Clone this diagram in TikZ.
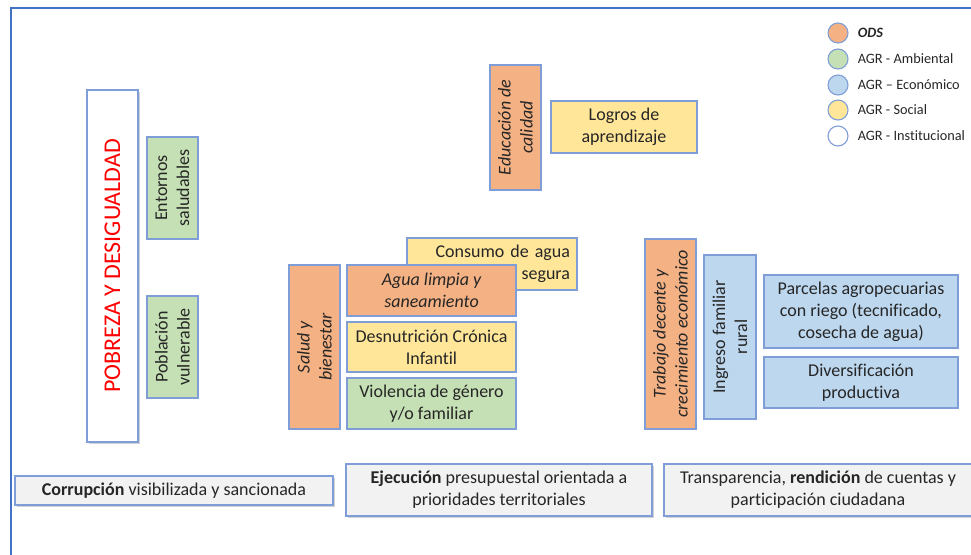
\documentclass[tikz,border=0pt]{standalone}
\usepackage{fontspec}
\setmainfont[Ligatures=NoCommon]{Carlito}
\usetikzlibrary{positioning,shadows}

\definecolor{odsc}{HTML}{F4B183}
\definecolor{ambc}{HTML}{C5E0B4}
\definecolor{ecoc}{HTML}{BDD7EE}
\definecolor{socc}{HTML}{FFE699}
\definecolor{insc}{HTML}{F2F2F2}
\definecolor{edgec}{HTML}{7F9ED8}
\definecolor{framec}{HTML}{4472C4}

\begin{document}
\begin{tikzpicture}
      [x=1pt, y=-1pt, auto,
       box/.style={draw=edgec, line width=1.1pt, inner sep=0pt, align=center,
         font=\fontsize{18}{22}\selectfont, text=black!85},
       vbox/.style={box, rotate=90},
       shade/.style={drop shadow={shadow xshift=1.5pt, shadow yshift=-1.5pt, opacity=0.35}},
       legdot/.style={circle, draw=edgec, line width=1.1pt, minimum size=20pt, inner sep=0pt},
       legtxt/.style={inner sep=0pt, font=\fontsize{14.3}{17}\selectfont, text=black!85}]
      \clip (0, 0) rectangle (971, 554);
      \draw[framec, line width=2.5pt] (11, 560) -- (11, 8) -- (980, 8);

      \node[vbox, shade, fill=white, minimum width=352pt, minimum height=51pt,
            text=red, font=\fontsize{24}{28}\selectfont] (pobreza) at (112.5, 266) {POBREZA Y DESIGUALDAD};
      \node[vbox, fill=ambc, minimum width=102pt, minimum height=51pt] (entornos) at (172.5, 188) {Entornos\\saludables};
      \node[vbox, fill=ambc, minimum width=102pt, minimum height=51pt] (poblacion) at (172.5, 347) {Población\\vulnerable};

      \node[vbox, fill=odsc, minimum width=125pt, minimum height=51pt] (educacion) at (515.5, 127.5) {\itshape Educación de\\\itshape calidad};
      \node[box, fill=socc, minimum width=146pt, minimum height=52pt] (logros) at (624, 127) {Logros de\\aprendizaje};

      \node[box, fill=socc, text width=156pt, inner xsep=7pt, align=right, minimum height=52pt] (consumo) at (492, 264) {Consumo de agua\\segura};
      \node[vbox, fill=odsc, minimum width=164pt, minimum height=51pt] (salud) at (314.5, 347) {\itshape Salud y\\\itshape bienestar};
      \node[box, fill=odsc, minimum width=169pt, minimum height=51pt] (agua) at (431.5, 290.5) {\itshape Agua limpia y\\\itshape saneamiento};
      \node[box, fill=socc, minimum width=169pt, minimum height=50pt] (desnutricion) at (431.5, 347) {Desnutrición Crónica\\Infantil};
      \node[box, fill=ambc, minimum width=169pt, minimum height=51pt] (violencia) at (431.5, 403.5) {Violencia de género\\y/o familiar};

      \node[vbox, fill=odsc, minimum width=190pt, minimum height=51pt] (trabajo) at (670.5, 334) {\itshape Trabajo decente y\\\itshape crecimiento económico};
      \node[vbox, fill=ecoc, minimum width=164pt, minimum height=52pt] (ingreso) at (730, 337) {Ingreso familiar\\rural};
      \node[box, fill=ecoc, minimum width=194pt, minimum height=73pt] (parcelas) at (861, 311.5) {Parcelas agropecuarias\\con riego (tecnificado,\\cosecha de agua)};
      \node[box, fill=ecoc, minimum width=194pt, minimum height=51pt] (diversificacion) at (861, 382.5) {Diversificación\\productiva};

      \node[box, shade, fill=insc, minimum width=318pt, minimum height=29pt] (corrupcion) at (174, 490.5) {\textbf{Corrupción} visibilizada y sancionada};
      \node[box, shade, fill=insc, minimum width=306pt, minimum height=52pt] (ejecucion) at (499, 490) {\textbf{Ejecución} presupuestal orientada a\\prioridades territoriales};
      \node[box, shade, fill=insc, minimum width=308pt, minimum height=52pt] (transparencia) at (818, 490) {Transparencia, \textbf{rendición} de cuentas y\\participación ciudadana};

      % leyenda
      \node[legdot, fill=odsc] (dot1) at (838, 33) {};
      \node[legdot, fill=ambc] (dot2) at (838, 59) {};
      \node[legdot, fill=ecoc] (dot3) at (838, 85) {};
      \node[legdot, fill=socc] (dot4) at (838, 110) {};
      \node[legdot, fill=white] (dot5) at (838, 136) {};
      \node[legtxt, right=9pt of dot1] (txt1) {\bfseries\itshape ODS};
      \node[legtxt, right=9pt of dot2] (txt2) {AGR - Ambiental};
      \node[legtxt, right=9pt of dot3] (txt3) {AGR -- Económico};
      \node[legtxt, right=9pt of dot4] (txt4) {AGR - Social};
      \node[legtxt, right=9pt of dot5] (txt5) {AGR - Institucional};
  \end{tikzpicture}
\end{document}
